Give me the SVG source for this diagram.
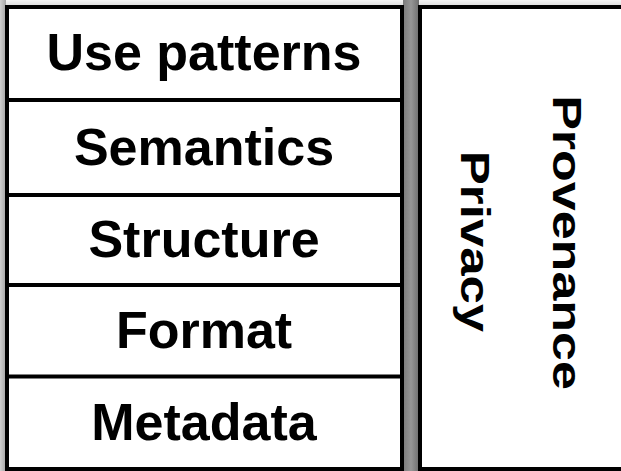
<svg xmlns="http://www.w3.org/2000/svg" width="621" height="471" viewBox="0 0 621 471">
  <defs>
    <linearGradient id="edgeShade" x1="0" y1="0" x2="1" y2="0">
      <stop offset="0" stop-color="#d0d0d0"/>
      <stop offset="1" stop-color="#a4a4a4"/>
    </linearGradient>
    <linearGradient id="gapShade" x1="0" y1="0" x2="1" y2="0">
      <stop offset="0" stop-color="#7c7c7c"/>
      <stop offset="0.5" stop-color="#969696"/>
      <stop offset="1" stop-color="#6e6e6e"/>
    </linearGradient>
    <linearGradient id="topShade" x1="0" y1="0" x2="0" y2="1">
      <stop offset="0" stop-color="#f4f4f4"/>
      <stop offset="1" stop-color="#dcdcdc"/>
    </linearGradient>
  </defs>
  <style>
    .box { fill: #ffffff; stroke: #000000; stroke-width: 4; }
    .rule { stroke: #000000; stroke-width: 4; }
    .label { font-family: "Liberation Sans", Arial, sans-serif; font-weight: bold; fill: #000000; text-anchor: middle; }
    .row { font-size: 52px; }
    .side { font-size: 51px; }
  </style>

  <!-- backdrop and shading around the two panels -->
  <rect x="0" y="0" width="621" height="471" fill="#ffffff"/>
  <rect x="0" y="0" width="621" height="6" fill="url(#topShade)"/>
  <rect x="0" y="0" width="6" height="471" fill="url(#edgeShade)"/>
  <rect x="403" y="0" width="16" height="471" fill="url(#gapShade)"/>

  <!-- stacked layers -->
  <g id="layer-stack">
    <rect class="box" x="7" y="7" width="395" height="462"/>
  </g>
  <g id="connectors">
    <line class="rule" x1="7" y1="100" x2="402" y2="100"/>
    <line class="rule" x1="7" y1="195" x2="402" y2="195"/>
    <line class="rule" x1="7" y1="285" x2="402" y2="285"/>
    <line class="rule" x1="7" y1="376.5" x2="402" y2="376.5"/>
    <line class="rule" x1="513.5" y1="7" x2="513.5" y2="469" style="stroke-width:3.5"/>
  </g>
  <g id="use-patterns"><text class="label row" x="204" y="70">Use patterns</text></g>
  <g id="semantics"><text class="label row" x="204" y="165">Semantics</text></g>
  <g id="structure"><text class="label row" x="204" y="257">Structure</text></g>
  <g id="format"><text class="label row" x="204" y="348">Format</text></g>
  <g id="metadata"><text class="label row" x="204" y="440">Metadata</text></g>

  <!-- cross-cutting concerns -->
  <g id="cross-cutting">
    <rect class="box" x="420" y="7" width="210" height="462"/>
  </g>
  <g id="privacy">
    <text class="label side" transform="translate(460.7 241.5) rotate(90) scale(1 0.8)" x="0" y="0">Privacy</text>
  </g>
  <g id="provenance">
    <text class="label side" transform="translate(553 242.5) rotate(90) scale(1 0.77)" x="0" y="0" style="font-size:52px">Provenance</text>
  </g>
</svg>
